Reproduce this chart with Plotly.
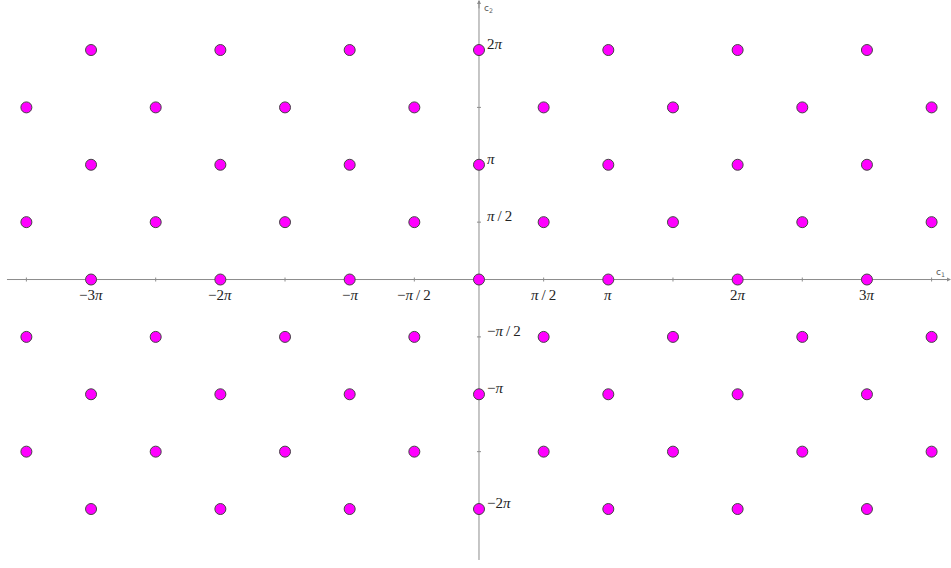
import plotly.graph_objects as go

# lattice coordinates, in multiples of pi
cols_int = [-3, -2, -1, 0, 1, 2, 3]
cols_half = [-3.5, -2.5, -1.5, -0.5, 0.5, 1.5, 2.5, 3.5]
rows_int = [-2, -1, 0, 1, 2]
rows_half = [-1.5, -0.5, 0.5, 1.5]

# axis labels
x_ticks = [-3, -2, -1, -0.5, 0.5, 1, 2, 3]
x_labels = ["−3<i>π</i>", "−2<i>π</i>", "−<i>π</i>", "−<i>π</i>\u2009/\u20092",
            "<i>π</i>\u2009/\u20092", "<i>π</i>", "2<i>π</i>", "3<i>π</i>"]
y_ticks = [2, 1, 0.5, -0.5, -1, -2]
y_labels = ["2<i>π</i>", "<i>π</i>", "<i>π</i>\u2009/\u20092", "−<i>π</i>\u2009/\u20092",
            "−<i>π</i>", "−2<i>π</i>"]
x_marks = [-3.5, -3, -2.5, -2, -1.5, -1, -0.5, 0.5, 1, 1.5, 2, 2.5, 3, 3.5]
y_marks = [-2, -1.5, -1, -0.5, 0.5, 1, 1.5, 2]

px_x, px_y = [], []
for r in rows_int:
    for c in cols_int:
        px_x.append(c)
        px_y.append(r)
for r in rows_half:
    for c in cols_half:
        px_x.append(c)
        px_y.append(r)

axis_col = "#8c8c8c"
label_font = dict(family="Liberation Serif, DejaVu Serif, serif", size=15, color="#222")

fig = go.Figure()

# axes lines
fig.add_shape(type="line", x0=-3.65, x1=3.64, y0=0, y1=0,
              line=dict(color=axis_col, width=1), layer="below")
fig.add_shape(type="line", x0=0, x1=0, y0=-2.444, y1=2.43,
              line=dict(color=axis_col, width=1), layer="below")

# tick marks
for t in x_marks:
    fig.add_shape(type="line", xref="x", yref="y", x0=t, x1=t,
                  ysizemode="pixel", yanchor=0, y0=-2, y1=2,
                  line=dict(color=axis_col, width=1), layer="below")
for t in y_marks:
    fig.add_shape(type="line", xref="x", yref="y", y0=t, y1=t,
                  xsizemode="pixel", xanchor=0, x0=-2, x1=2,
                  line=dict(color=axis_col, width=1), layer="below")

# arrow heads
fig.add_annotation(x=3.65, y=0, ax=3.55, ay=0, axref="x", ayref="y",
                   showarrow=True, arrowhead=2, arrowsize=0.8, arrowwidth=1,
                   arrowcolor=axis_col, text="")
fig.add_annotation(x=0, y=2.436, ax=0, ay=2.35, axref="x", ayref="y",
                   showarrow=True, arrowhead=2, arrowsize=0.8, arrowwidth=1,
                   arrowcolor=axis_col, text="")

fig.add_trace(go.Scatter(
    x=px_x, y=px_y, mode="markers",
    marker=dict(size=11, color="#ff00ff", line=dict(color="#444", width=1)),
    hoverinfo="skip", showlegend=False,
))

for t, lab in zip(x_ticks, x_labels):
    fig.add_annotation(x=t, y=0, text=lab, showarrow=False, yanchor="top",
                       xanchor="center", yshift=-5, font=label_font)
for t, lab in zip(y_ticks, y_labels):
    fig.add_annotation(x=0, y=t, text=lab, showarrow=False, xanchor="left",
                       yanchor="middle", xshift=6, yshift=6, font=label_font)

fig.add_annotation(x=3.52, y=0, text="c<sub>1</sub>", showarrow=False,
                   xanchor="left", yanchor="bottom", yshift=0,
                   font=dict(family="DejaVu Sans", size=9, color="#555"))
fig.add_annotation(x=0, y=2.43, text="c<sub>2</sub>", showarrow=False,
                   xanchor="left", yanchor="top", xshift=3,
                   font=dict(family="DejaVu Sans", size=9, color="#555"))

fig.update_xaxes(range=[-3.704, 3.650], visible=False, fixedrange=True)
fig.update_yaxes(range=[-2.514, 2.436], visible=False, fixedrange=True)
fig.update_layout(
    width=951, height=568,
    margin=dict(l=0, r=0, t=0, b=0),
    plot_bgcolor="white", paper_bgcolor="white",
)

fig.write_html("out.html", config={"displayModeBar": False},
               post_script="document.body.style.margin='0';")
